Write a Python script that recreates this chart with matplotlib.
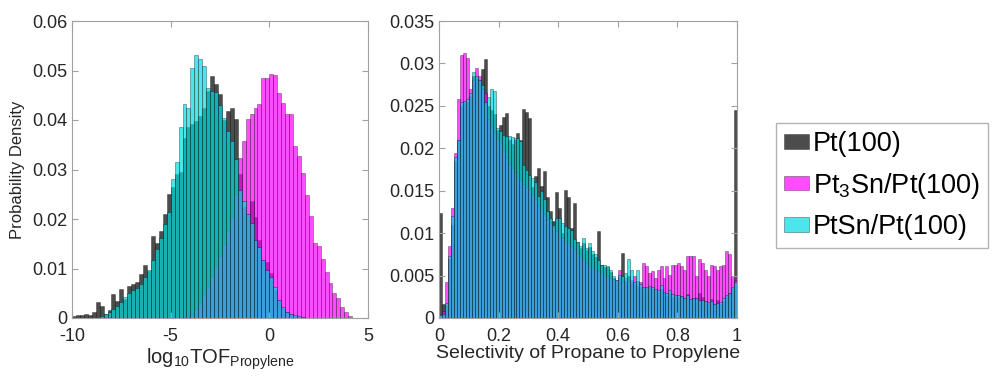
import numpy as np
import matplotlib
matplotlib.use('Agg')
import matplotlib.pyplot as plt
from matplotlib.colors import to_rgba

plt.rcParams['font.family'] = ['Liberation Sans', 'DejaVu Sans']
plt.rcParams['mathtext.fontset'] = 'custom'
plt.rcParams['mathtext.rm'] = 'Liberation Sans'
plt.rcParams['mathtext.it'] = 'Liberation Sans:italic'

LABELS = ['Pt(100)', 'Pt$_3$Sn/Pt(100)', 'PtSn/Pt(100)']
COLORS = ['black', (1.0, 0.0, 1.0), (0.0, 0.86, 0.89)]

# left panel: log10 TOF, bins of 0.2 starting at -10 (densities x 1e-3)
tof_lo, tof_step = -10.0, 0.2
pt_tof = [0.5, 0.6, 0.7, 0.9, 0.6, 1.2, 3.3, 2.5, 0.8, 1.6,
          4.9, 3.5, 5.8, 3.8, 6.5, 6.8, 7.2, 8.8, 10.8, 9.5,
          16.5, 15.2, 17.5, 21.0, 25.1, 26.5, 29.0, 29.5, 36.4, 38.5,
          39.1, 39.7, 40.8, 42.5, 45.9, 48.9, 47.3, 45.3, 40.0, 41.9,
          42.5, 40.2, 29.0, 22.5, 21.0, 23.7, 20.4, 15.7, 11.7, 11.3,
          9.0, 5.6, 3.6, 2.0, 1.2, 0.8, 0.5, 0.3, 0.2, 0.1,
          0, 0, 0, 0, 0, 0, 0, 0, 0, 0, 0, 0]
pt3sn_tof = [0, 0, 0, 0, 0, 0, 0, 0, 0, 0,
             0, 0, 0, 0, 0, 0, 0, 0, 0, 0,
             0, 0, 0, 0, 0, 0, 0, 0, 0, 0.2,
             0.7, 1.8, 3.3, 4.8, 6.5, 8.5, 10.5, 12.5, 15.0, 17.5,
             20.5, 25.0, 32.4, 35.8, 40.2, 41.2, 42.5, 43.2, 48.5, 48.5,
             49.3, 49.0, 45.5, 43.5, 41.2, 41.2, 34.8, 32.8, 29.2, 24.8,
             20.7, 15.1, 14.5, 12.0, 9.3, 7.0, 5.0, 4.0, 2.3, 1.2, 0.5, 0]
ptsn_tof = [0, 0, 0, 0, 0, 0, 0, 0.4, 0.8, 1.3,
            1.8, 2.5, 3.3, 4.2, 5.0, 5.6, 6.0, 6.8, 8.2, 9.7,
            11.8, 14.0, 16.2, 19.0, 21.5, 28.0, 31.5, 38.5, 43.2, 42.5,
            50.5, 53.1, 52.3, 50.9, 46.5, 45.9, 45.6, 43.0, 40.5, 37.8,
            35.7, 32.2, 25.8, 23.7, 21.1, 19.1, 15.7, 14.3, 11.7, 9.7,
            8.3, 6.2, 3.6, 2.2, 1.2, 0.8, 0.6, 0.4, 0.2, 0.1,
            0, 0, 0, 0, 0, 0, 0, 0, 0, 0, 0, 0]

# right panel: selectivity, bins of 0.01 from 0 to 1 (densities x 1e-3)
sel_lo, sel_step = 0.0, 0.01
pt_sel = [12.4, 1.6, 1.5, 7.0, 11.0, 18.5, 21.0, 25.0, 25.5, 25.5,
          26.2, 28.5, 28.3, 28.0, 29.3, 30.5, 25.0, 24.5, 24.0, 22.2,
          22.7, 23.7, 24.1, 21.0, 20.5, 21.0, 21.8, 21.0, 24.6, 24.3,
          23.6, 15.4, 16.7, 17.7, 15.5, 17.3, 14.3, 12.6, 11.4, 14.9,
          13.0, 10.0, 15.1, 14.3, 10.6, 13.6, 9.0, 8.2, 8.8, 8.0,
          8.4, 7.6, 7.2, 10.2, 6.2, 6.0, 6.0, 5.4, 4.7, 4.4,
          4.8, 7.7, 4.4, 5.0, 4.2, 4.0, 3.8, 3.6, 3.5, 3.5,
          3.6, 3.4, 3.3, 3.1, 3.4, 2.9, 2.6, 3.0, 2.5, 2.6,
          2.5, 2.6, 2.3, 2.8, 2.2, 2.4, 2.3, 3.0, 2.5, 2.0,
          1.8, 2.2, 1.6, 2.1, 1.7, 2.0, 2.6, 3.0, 3.5, 24.5]
pt3sn_sel = [0.5, 0.8, 4.2, 8.5, 13.0, 19.5, 25.8, 31.0, 31.2, 30.6,
             27.0, 28.0, 29.5, 28.5, 27.0, 26.5, 23.5, 22.5, 21.8, 21.2,
             20.6, 19.8, 19.0, 18.2, 17.7, 17.2, 16.6, 16.3, 15.8, 15.4,
             15.1, 14.6, 14.0, 13.3, 12.8, 12.2, 11.7, 11.2, 10.7, 10.2,
             9.7, 9.4, 9.1, 8.8, 8.5, 8.1, 7.7, 7.3, 6.9, 6.5,
             6.1, 5.9, 5.7, 5.5, 5.3, 5.1, 4.9, 4.7, 4.6, 4.5,
             5.6, 4.4, 4.7, 4.4, 4.5, 5.0, 4.4, 4.3, 6.5, 6.1,
             5.3, 5.5, 4.7, 5.7, 6.1, 4.7, 6.1, 5.1, 6.3, 6.3,
             6.5, 6.1, 5.7, 7.3, 7.3, 7.3, 5.0, 6.9, 6.5, 5.7,
             5.0, 6.3, 6.1, 5.7, 6.1, 6.3, 7.9, 7.5, 5.0, 4.5]
ptsn_sel = [0.3, 0.5, 1.8, 7.3, 12.0, 19.0, 21.0, 25.5, 25.6, 25.8,
            26.5, 29.0, 28.5, 28.1, 27.5, 25.5, 26.0, 27.0, 26.8, 22.4,
            22.0, 21.6, 21.4, 21.4, 21.3, 21.2, 21.2, 20.8, 18.0, 17.5,
            16.8, 16.5, 16.0, 14.4, 15.0, 14.0, 12.6, 11.8, 11.0, 11.8,
            11.8, 11.2, 10.8, 10.6, 10.4, 9.3, 9.0, 8.5, 9.4, 8.2,
            8.8, 7.9, 7.5, 6.8, 6.3, 6.3, 6.1, 5.7, 4.9, 4.5,
            5.1, 4.9, 5.3, 6.9, 5.7, 4.3, 5.7, 4.0, 3.7, 3.7,
            3.8, 3.6, 3.4, 3.3, 3.9, 3.1, 3.0, 3.3, 2.8, 2.7,
            2.7, 2.6, 2.4, 2.7, 2.2, 2.3, 2.4, 2.1, 2.1, 2.0,
            1.9, 2.0, 1.7, 1.8, 1.9, 2.3, 2.7, 3.0, 3.6, 4.3]


def draw_hist(ax, lo, step, series):
    bars = []
    for heights, color in zip(series, COLORS):
        h = np.asarray(heights) * 1e-3
        x = lo + step * np.arange(len(h))
        keep = h > 0
        b = ax.bar(x[keep], h[keep], width=step, align='edge',
                   facecolor=to_rgba(color, 0.7), edgecolor=(0, 0, 0, 0.45),
                   linewidth=0.5)
        bars.append(b)
    return bars


def style_axes(ax):
    ax.tick_params(direction='in', top=True, right=True, length=4,
                   color='#a0a0a0', labelcolor='#262626', labelsize=13)
    ax.tick_params(axis='x', pad=7)
    for s in ax.spines.values():
        s.set_color('#a0a0a0')
        s.set_linewidth(0.8)
    ax.yaxis.set_major_formatter(plt.FuncFormatter(lambda v, p: f'{v:g}'))
    ax.xaxis.set_major_formatter(plt.FuncFormatter(lambda v, p: f'{v:g}'))


fig = plt.figure(figsize=(9.93, 3.76), dpi=100)

ax1 = fig.add_axes([72 / 993, 58 / 376, 296 / 993, 297 / 376])
bars = draw_hist(ax1, tof_lo, tof_step, [pt_tof, pt3sn_tof, ptsn_tof])
ax1.set_xlim(-10, 5)
ax1.set_ylim(0, 0.06)
ax1.set_xticks([-10, -5, 0, 5])
ax1.set_yticks(np.arange(0, 0.061, 0.01))
style_axes(ax1)
ax1.set_xlabel(r'log$_{10}$TOF$_{\mathrm{Propylene}}$', fontsize=14.5,
               color='#262626', labelpad=1)
ax1.set_ylabel('Probability Density', fontsize=12, color='#262626', labelpad=5)

ax2 = fig.add_axes([439 / 993, 58 / 376, 298 / 993, 297 / 376])
draw_hist(ax2, sel_lo, sel_step, [pt_sel, pt3sn_sel, ptsn_sel])
ax2.set_xlim(0, 1)
ax2.set_ylim(0, 0.035)
ax2.set_xticks(np.arange(0, 1.01, 0.2))
ax2.set_yticks(np.arange(0, 0.0351, 0.005))
style_axes(ax2)
ax2.set_xlabel('Selectivity of Propane to Propylene', fontsize=14,
               color='#262626', labelpad=0)

fig.legend(bars, LABELS, loc='upper left',
           bbox_to_anchor=(776 / 993, 1 - 123 / 376), fontsize=19.5,
           frameon=True, fancybox=False, edgecolor='#a0a0a0',
           handlelength=0.9, handleheight=0.45, handletextpad=0.15,
           borderpad=0.3, borderaxespad=0, labelspacing=0.5)

fig.savefig('out.png', dpi=100)
